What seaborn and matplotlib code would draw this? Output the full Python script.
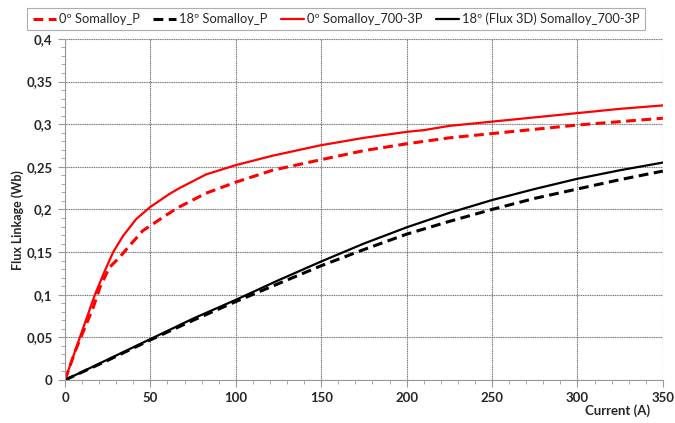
import pandas as pd
import seaborn as sns
import matplotlib.pyplot as plt
from matplotlib.ticker import MultipleLocator, FuncFormatter

# Data (current in A, flux linkage in Wb)
current_red_p = [0, 6, 16.5, 20.5, 26, 32, 38, 45.5, 50, 59, 66, 82.5, 100, 121.5,
                 149, 175, 200, 225, 250, 275, 300, 325, 350]
flux_red_p = [0, 0.034, 0.085, 0.109, 0.132, 0.144, 0.158, 0.175, 0.181, 0.193, 0.202,
              0.219, 0.232, 0.246, 0.258, 0.269, 0.277, 0.284, 0.289, 0.294, 0.299,
              0.303, 0.307]

current_black_p = [0, 25, 50, 75, 100, 125, 150, 175, 200, 225, 250, 275, 300, 325, 350]
flux_black_p = [0, 0.023, 0.047, 0.070, 0.092, 0.113, 0.134, 0.153, 0.171, 0.186,
                0.200, 0.213, 0.224, 0.235, 0.245]

current_red_3p = [0, 8.7, 17.5, 23.3, 28.2, 34, 41.8, 50, 61, 67, 82.5, 100, 121.5,
                  149, 175, 200, 210, 225, 250, 275, 300, 325, 350]
flux_red_3p = [0, 0.05, 0.10, 0.128, 0.15, 0.169, 0.189, 0.203, 0.218, 0.225, 0.241,
               0.252, 0.263, 0.275, 0.284, 0.291, 0.293, 0.298, 0.303, 0.308, 0.313,
               0.318, 0.322]

current_black_3p = [0, 25, 50, 75, 100, 125, 150, 175, 200, 225, 250, 275, 300, 325, 350]
flux_black_3p = [0, 0.024, 0.048, 0.072, 0.094, 0.117, 0.139, 0.160, 0.179, 0.196,
                 0.211, 0.224, 0.236, 0.246, 0.255]

labels = ['0º Somalloy_P', '18º Somalloy_P', '0º Somalloy_700-3P',
          '18º (Flux 3D) Somalloy_700-3P']

sns.set_style('white')
plt.rcParams['font.family'] = ['Lato', 'DejaVu Sans']

fig = plt.figure(figsize=(6.75, 4.23), dpi=100)
ax = fig.add_axes([0.0963, 0.1017, 0.8857, 0.8063])

sns.lineplot(x=current_red_p, y=flux_red_p, ax=ax, color='#ff0000', linewidth=2.2,
             label=labels[0])
ax.lines[-1].set_dashes((3.2, 1.8))
sns.lineplot(x=current_black_p, y=flux_black_p, ax=ax, color='black', linewidth=2.2,
             label=labels[1])
ax.lines[-1].set_dashes((3.2, 1.8))
sns.lineplot(x=current_red_3p, y=flux_red_3p, ax=ax, color='#ff0000', linewidth=1.6,
             label=labels[2])
sns.lineplot(x=current_black_3p, y=flux_black_3p, ax=ax, color='black', linewidth=1.6,
             label=labels[3])
for ln in ax.lines:
    ln.set_solid_joinstyle('round')
    ln.set_dash_capstyle('butt')

ax.set_xlim(0, 350)
ax.set_ylim(0, 0.4)
ax.xaxis.set_major_locator(MultipleLocator(50))
ax.xaxis.set_minor_locator(MultipleLocator(10))
ax.yaxis.set_major_locator(MultipleLocator(0.05))
ax.yaxis.set_minor_locator(MultipleLocator(0.01))
ax.yaxis.set_major_formatter(FuncFormatter(lambda v, p: f'{v:.2f}'.rstrip('0').rstrip('.').replace('.', ',')))

ax.grid(True, which='major', color='0.45', linewidth=0.8, linestyle=(0, (1, 0.6)))
for s in ['top', 'right']:
    ax.spines[s].set_visible(False)
for s in ['left', 'bottom']:
    ax.spines[s].set_color('0.6')
    ax.spines[s].set_linewidth(0.8)

ax.tick_params(which='both', direction='out', color='0.6', left=True, bottom=True)
ax.tick_params(which='major', length=5, width=0.8, labelsize=9.5, pad=4)
ax.tick_params(which='minor', length=3, width=0.6)
for t in ax.get_xticklabels() + ax.get_yticklabels():
    t.set_fontweight('bold')

ax.set_xlabel('')
ax.set_ylabel('')
fig.text(0.915, 0.03, 'Current (A)', fontsize=9.5, fontweight='bold', ha='center', va='center')
fig.text(0.026, 0.48, 'Flux Linkage (Wb)', fontsize=9, fontweight='bold', rotation=90,
         ha='center', va='center')

ax.get_legend().remove()
handles, lbls = ax.get_legend_handles_labels()
leg = fig.legend(handles, lbls, loc='center', bbox_to_anchor=(0.498, 0.955), ncol=4,
                 fontsize=9.3, frameon=True, fancybox=False, handlelength=1.8,
                 handletextpad=0.25, columnspacing=1.0, borderpad=0.4)
leg.get_frame().set_edgecolor('0.6')
leg.get_frame().set_linewidth(0.8)

fig.savefig('out.png', dpi=100)
